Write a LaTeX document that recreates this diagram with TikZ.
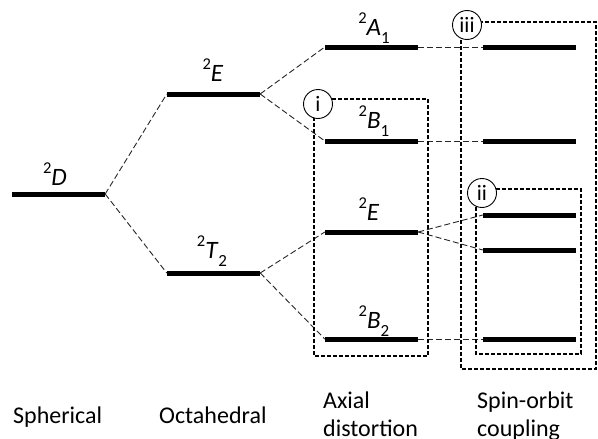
\documentclass[tikz,border=0pt]{standalone}
\usepackage{fontspec}
\setmainfont{Carlito}
\newcommand{\mysup}[1]{\raisebox{11.5pt}{\fontsize{16.5}{17}\selectfont #1}}
\newcommand{\mysub}[1]{\raisebox{-8pt}{\fontsize{17}{17}\selectfont #1}}
\begin{document}
\begin{tikzpicture}[x=1pt,y=-1pt,
  lev/.style={fill=black,inner sep=0pt,minimum width=93pt,minimum height=5pt},
  conn/.style={black!85,line width=0.9pt,dash pattern=on 6pt off 3pt},
  grp/.style={black,line width=1.5pt,dash pattern=on 4pt off 2pt},
  tag/.style={circle,draw=black,line width=0.9pt,fill=white,minimum size=29pt,inner sep=0pt,font=\fontsize{22}{24}\selectfont},
  lab/.style={anchor=base,inner sep=0pt,font=\fontsize{25}{28}\selectfont},
  captext/.style={anchor=base west,inner sep=0pt,font=\fontsize{24}{28}\selectfont}]
\useasboundingbox (0,0) rectangle (598,439);
% levels
\node[lev] (D)  at (58.5,194) {};
\node[lev] (Eo) at (213.5,94) {};
\node[lev] (T2) at (213.5,273) {};
\node[lev] (A1) at (371.5,47) {};
\node[lev] (B1) at (371.5,141) {};
\node[lev] (Ea) at (371.5,232) {};
\node[lev] (B2) at (371.5,339) {};
\node[lev] (S1) at (529.5,47) {};
\node[lev] (S2) at (529.5,141) {};
\node[lev] (S3) at (529.5,215) {};
\node[lev] (S4) at (529.5,250) {};
\node[lev] (S5) at (529.5,339) {};
% connectors
\draw[conn] (D.east) -- (Eo.west);
\draw[conn] (D.east) -- (T2.west);
\draw[conn] (Eo.east) -- (A1.west);
\draw[conn] (Eo.east) -- (B1.west);
\draw[conn] (T2.east) -- (Ea.west);
\draw[conn] (T2.east) -- (B2.west);
\draw[conn] (A1.east) -- (S1.west);
\draw[conn] (B1.east) -- (S2.west);
\draw[conn] (Ea.east) -- (S3.west);
\draw[conn] (Ea.east) -- (S4.west);
\draw[conn] (B2.east) -- (S5.west);
% group boxes
\draw[grp] (314,99) rectangle (428,356);
\draw[grp] (476,189) rectangle (581,354);
\draw[grp] (461,22) rectangle (596,369);
\node[tag] (ti) at (318,104) {i};
\node[tag] (tii) at (482,193) {ii};
\node[tag] (tiii) at (467,25) {iii};
% level labels
\node[lab] (lD)  at (55,185)  {\mysup{2}\textit{D}};
\node[lab] (lEo) at (213,81)  {\mysup{2}\textit{E}};
\node[lab] (lT2) at (212,258) {\mysup{2}\textit{T}\mysub{2}};
\node[lab] (lA1) at (374,35)  {\mysup{2}\textit{A}\mysub{1}};
\node[lab] (lB1) at (374,128) {\mysup{2}\textit{B}\mysub{1}};
\node[lab] (lEa) at (369,220) {\mysup{2}\textit{E}};
\node[lab] (lB2) at (374,328) {\mysup{2}\textit{B}\mysub{2}};
% bottom captions
\node[captext] (c1) at (13,423) {Spherical};
\node[captext] (c2) at (159,423) {Octahedral};
\node[captext] (c3a) at (323,408) {Axial};
\node[captext] (c3b) at (323,436) {distortion};
\node[captext] (c4a) at (477,408) {Spin-orbit};
\node[captext] (c4b) at (477,436) {coupling};
\end{tikzpicture}
\end{document}
